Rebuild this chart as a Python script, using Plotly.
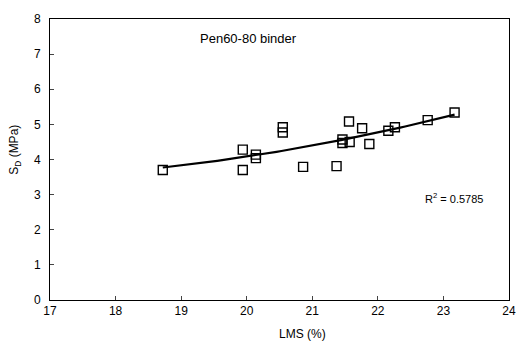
import numpy as np
import plotly.graph_objects as go

lms = [18.72, 19.94, 19.94, 20.14, 20.14, 20.55, 20.55, 20.86, 21.37,
       21.46, 21.46, 21.56, 21.57, 21.76, 21.87, 22.16, 22.26, 22.76, 23.17]
sd = [3.70, 4.28, 3.70, 4.14, 4.04, 4.92, 4.77, 3.79, 3.81,
      4.57, 4.47, 5.08, 4.50, 4.89, 4.44, 4.82, 4.92, 5.12, 5.34]

x_ticks = [17, 18, 19, 20, 21, 22, 23, 24]
y_ticks = [0, 1, 2, 3, 4, 5, 6, 7, 8]

coef = np.polyfit(lms, sd, 2)
xf = np.linspace(min(lms), max(lms), 60)
yf = np.polyval(coef, xf)

font = dict(family="Liberation Sans, Arial", size=12, color="black")

fig = go.Figure()
fig.add_trace(go.Scatter(x=xf, y=yf, mode="lines",
                         line=dict(color="black", width=2.2), showlegend=False))
fig.add_trace(go.Scatter(x=lms, y=sd, mode="markers",
                         marker=dict(symbol="square-open", size=9, color="black",
                                     line=dict(width=1.4, color="black")),
                         showlegend=False))

fig.update_layout(
    width=528, height=341,
    margin=dict(l=50, r=13, t=15, b=41),
    paper_bgcolor="white", plot_bgcolor="white",
    font=font,
    xaxis=dict(range=[17, 24], tickvals=x_ticks, ticks="inside", ticklen=4,
               showgrid=False, zeroline=False, showline=True, linecolor="black",
               linewidth=1, mirror=True, tickfont=font),
    yaxis=dict(range=[0, 8], tickvals=y_ticks, ticks="inside", ticklen=4,
               showgrid=False, zeroline=False, showline=True, linecolor="black",
               linewidth=1, mirror=True, tickfont=font, ticklabelstandoff=6),
    annotations=[
        dict(x=19.26, y=7.44, xref="x", yref="y", text="Pen60-80 binder",
             showarrow=False, xanchor="left",
             font=dict(family="Liberation Sans, Arial", size=13, color="black")),
        dict(x=23.16, y=2.89, xref="x", yref="y", text="R<sup>2</sup> = 0.5785",
             showarrow=False,
             font=dict(family="Liberation Sans, Arial", size=11, color="black")),
        dict(x=20.85, y=-0.09, xref="x", yref="paper", yanchor="top",
             xanchor="center", text="LMS (%)", showarrow=False, font=font),
        dict(x=-0.076, y=0.535, xref="paper", yref="paper", xanchor="center",
             yanchor="middle", text="S<sub>D</sub> (MPa)",
             textangle=-90, showarrow=False, font=font),
    ],
)

fig.write_html("out.html")
